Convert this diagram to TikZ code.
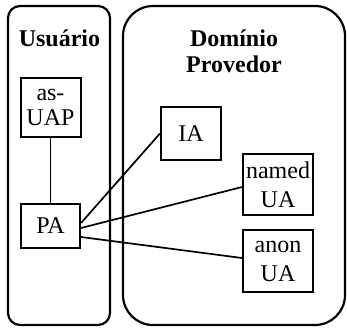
\documentclass[tikz,border=0pt]{standalone}
\usepackage{fontspec}
\setmainfont{Liberation Serif}
\begin{document}
\begin{tikzpicture}[x=1pt,y=-1pt,
  zonebox/.style={draw,line width=2.2pt},
  agentbox/.style={draw,line width=2pt,rectangle,inner sep=0pt,align=center,
    font=\fontsize{24}{29}\selectfont},
  zonetitle/.style={anchor=base,inner sep=0pt,font=\fontsize{24}{26}\selectfont\bfseries},
  linkline/.style={line width=1.7pt}]
\useasboundingbox (0,0) rectangle (347,328);

% the two domains
\draw[zonebox,rounded corners=12pt] (8,6) rectangle (110,325);
\draw[zonebox,rounded corners=30pt] (123,6) rectangle (345,325);

% domain titles
\node[zonetitle] (tu) at (59.5,47) {Usuário};
\node[zonetitle] (td1) at (234,47) {Domínio};
\node[zonetitle] (td2) at (234,73) {Provedor};

% agents
\node[agentbox,minimum width=60pt,minimum height=59pt,
  font=\fontsize{24}{25}\selectfont] (uap) at (50.5,107.5) {as-\\UAP};
\node[agentbox,minimum width=59pt,minimum height=44pt] (pa) at (50.5,226) {PA};
\node[agentbox,minimum width=60pt,minimum height=53pt] (ia) at (191,133.5) {IA};
\node[agentbox,minimum width=70pt,minimum height=61pt] (nua) at (278,184.5) {named\\UA};
\node[agentbox,minimum width=70pt,minimum height=62pt] (aua) at (278,261) {anon\\UA};

% connections
\draw[linkline] (uap) -- (pa);
\draw[linkline] ([yshift=3pt]pa.east) -- (ia.west);
\draw[linkline] ([yshift=-2pt]pa.east) -- ([yshift=-2.5pt]nua.west);
\draw[linkline] ([yshift=-11pt]pa.east) -- ([yshift=3pt]aua.west);
\end{tikzpicture}
\end{document}
